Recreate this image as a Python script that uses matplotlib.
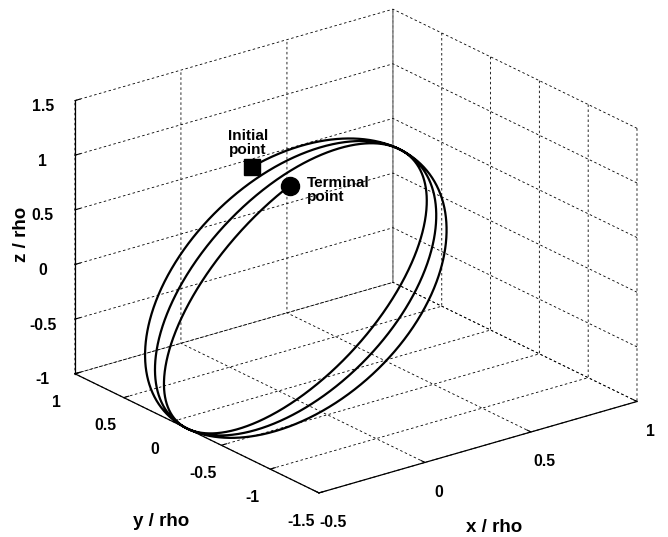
import numpy as np
import matplotlib.pyplot as plt
from mpl_toolkits.mplot3d import proj3d

plt.rcParams['font.family'] = ['Liberation Sans', 'DejaVu Sans']
plt.rcParams['font.weight'] = 'bold'
plt.rcParams['axes3d.automargin'] = False

# relative orbit around the target, in units of rho
centre = [0.0, -0.15, 0.0]
x_amp = 0.5
z_amp = 1.0
y_amp = [1.18, 0.72]          # along-track amplitude at initial / terminal point
phase_deg = [32.0, 1112.0]    # orbit phase at initial / terminal point

x_ticks = [-0.5, 0, 0.5, 1]
y_ticks = [-1.5, -1, -0.5, 0, 0.5, 1]
z_ticks = [-1, -0.5, 0, 0.5, 1, 1.5]

th = np.radians(np.linspace(phase_deg[0], phase_deg[1], 3000))
ya = np.linspace(y_amp[0], y_amp[1], th.size)
x = centre[0] + x_amp * np.sin(th)
y = centre[1] + ya * np.cos(th)
z = centre[2] + z_amp * np.sin(th)

fig = plt.figure(figsize=(6.68, 5.37), dpi=100)
ax = fig.add_axes([0.022, 0.019, 1.0, 1.0], projection='3d', proj_type='ortho')
ax.view_init(elev=22, azim=-127.5)
ax.set_box_aspect((1, 1, 0.735), zoom=1.155)

ax.plot(x, y, z, color='k', lw=1.6)
ax.plot([x[0]], [y[0]], [z[0]], 's', color='k', ms=11.5)
ax.plot([x[-1]], [y[-1]], [z[-1]], 'o', color='k', ms=13)

ax.set_xlim(x_ticks[0], x_ticks[-1])
ax.set_ylim(y_ticks[0], y_ticks[-1])
ax.set_zlim(z_ticks[0], z_ticks[-1])
ax.set_xticks(x_ticks)
ax.set_yticks(y_ticks)
ax.set_zticks(z_ticks)
ax.set_xticklabels([f'{v:g}' for v in x_ticks])
ax.set_yticklabels([f'{v:g}' for v in y_ticks])
ax.set_zticklabels([f'{v:g}' for v in z_ticks])
ax.tick_params(labelsize=11.3)

for axis in (ax.xaxis, ax.yaxis, ax.zaxis):
    axis.set_pane_color((1, 1, 1, 0))
    axis.pane.set_edgecolor('none')
    axis.line.set_color('k')
    axis.line.set_linewidth(0.9)
    axis._axinfo['grid'].update(color='k', linestyle=(0, (3, 3)), linewidth=0.6)
    axis._axinfo['tick'].update(inward_factor=0.0, outward_factor=0.2)

# horizontal axis titles, MATLAB style
fig.text(494 / 668, 1 - 527 / 537, 'x / rho', ha='center', va='center', fontsize=13.5)
fig.text(161 / 668, 1 - 522 / 537, 'y / rho', ha='center', va='center', fontsize=13.5)
fig.text(22 / 668, 1 - 234 / 537, 'z / rho', ha='center', va='center', fontsize=13.5,
         rotation=90)

fig.canvas.draw()
M = ax.get_proj()
xs, ys, _ = proj3d.proj_transform(x[0], y[0], z[0], M)
xe, ye, _ = proj3d.proj_transform(x[-1], y[-1], z[-1], M)
ax.annotate('Initial\npoint', xy=(xs, ys), xytext=(-4, 10), textcoords='offset pixels',
            ha='center', va='bottom', fontsize=11, fontweight='bold', linespacing=1.0)
ax.annotate('Terminal\npoint', xy=(xe, ye), xytext=(17, -4), textcoords='offset pixels',
            ha='left', va='center', fontsize=11, fontweight='bold', linespacing=1.0)

fig.savefig('out.png', dpi=100)
